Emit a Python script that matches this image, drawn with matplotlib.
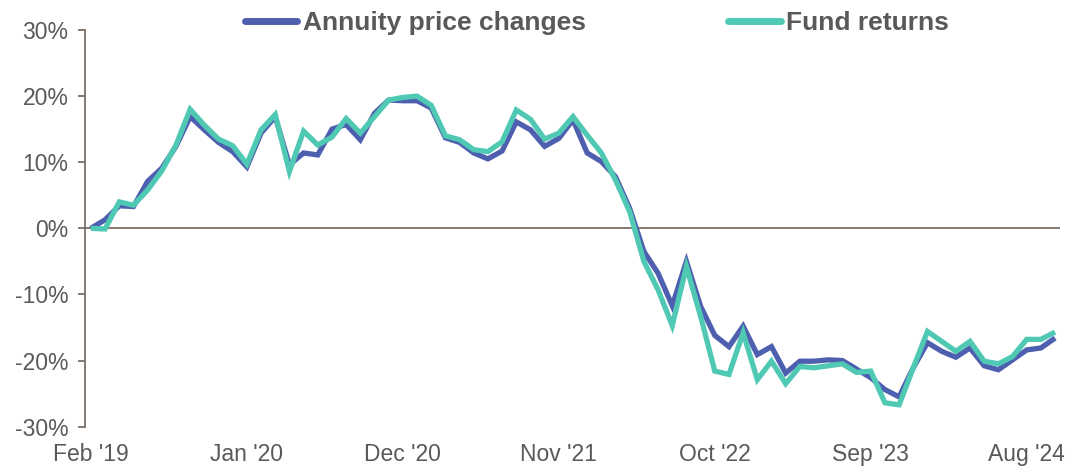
#!/usr/bin/env python3

import numpy as np
import pandas as pd
import matplotlib
matplotlib.use("Agg")
import matplotlib.pyplot as plt

plt.rcParams['font.family'] = ['Liberation Sans', 'DejaVu Sans']

# --- data (% cumulative change since Feb 2019, monthly) ---
months = pd.date_range("2019-02-01", periods=69, freq="MS")
month_labels = [d.strftime("%b '%y") for d in months]

annuity = [0, 1.3, 3.4, 3.3, 7.1, 9.1, 12.4, 16.9, 14.9, 13.0,
           11.6, 9.3, 14.4, 16.9, 9.6, 11.4, 11.1, 15.0, 15.7, 13.4,
           17.4, 19.4, 19.3, 19.3, 18.2, 13.7, 13.0, 11.4, 10.5, 11.7,
           16.1, 14.9, 12.4, 13.6, 16.4, 11.4, 10.1, 7.8, 3.0, -3.5,
           -6.8, -11.7, -5.0, -11.8, -16.2, -17.9, -14.8, -19.1, -17.9, -21.9,
           -20.1, -20.1, -19.9, -20.0, -21.3, -22.6, -24.4, -25.5, -21.1, -17.3,
           -18.6, -19.5, -18.1, -20.8, -21.4, -19.9, -18.4, -18.1, -16.6]

fund = [0, -0.1, 4.0, 3.5, 5.8, 8.7, 12.6, 18.0, 15.6, 13.5,
        12.5, 9.7, 14.9, 17.2, 8.6, 14.7, 12.6, 13.8, 16.6, 14.4,
        16.9, 19.4, 19.8, 20.0, 18.6, 14.0, 13.4, 11.9, 11.6, 13.1,
        17.9, 16.5, 13.5, 14.4, 16.9, 14.1, 11.4, 7.3, 2.5, -5.0,
        -9.3, -14.7, -5.8, -13.3, -21.6, -22.1, -15.8, -22.9, -20.1, -23.5,
        -20.9, -21.1, -20.8, -20.5, -21.8, -21.6, -26.4, -26.7, -21.1, -15.6,
        -17.1, -18.6, -17.1, -20.1, -20.5, -19.4, -16.8, -16.8, -15.7]

y_ticks = [-30, -20, -10, 0, 10, 20, 30]

# --- style ---
c_annuity = "#4E5FAF"
c_fund = "#4FC9B3"
c_axis = "#786F68"
c_text = "#595959"

fig = plt.figure(figsize=(10.66, 4.66), dpi=100)
ax = fig.add_axes([0.0797, 0.0845, 0.9147, 0.8511])

x = np.arange(len(months))
ax.plot(x, annuity, color=c_annuity, lw=3.8, solid_joinstyle="miter",
        solid_capstyle="butt", label="Annuity price changes", zorder=3)
ax.plot(x, fund, color=c_fund, lw=3.8, solid_joinstyle="miter",
        solid_capstyle="butt", label="Fund returns", zorder=4)

ax.axhline(0, color=c_axis, lw=1.3, zorder=2)

ax.set_ylim(-30, 30)
ax.set_xlim(-0.42, len(months) - 1 + 0.35)
ax.set_yticks(y_ticks)
ax.set_yticklabels([f"{v}%" for v in y_ticks])

tick_idx = x[::11]
ax.set_xticks(tick_idx)
ax.set_xticklabels([month_labels[i] for i in tick_idx])

for s in ["top", "right", "bottom"]:
    ax.spines[s].set_visible(False)
ax.spines["left"].set_color(c_axis)
ax.spines["left"].set_linewidth(1.3)

ax.tick_params(axis="y", direction="out", length=5, width=1.3, color=c_axis,
               labelcolor=c_text, labelsize=16.5, pad=7)
ax.tick_params(axis="x", length=0, labelcolor=c_text, labelsize=16.5, pad=12)

leg = fig.legend(loc="center", bbox_to_anchor=(0.56, 0.95), ncol=2,
                 frameon=False, handlelength=2.0, handletextpad=0.2,
                 columnspacing=5.4, prop={"weight": "bold", "size": 19})
for t in leg.get_texts():
    t.set_color(c_text)
for h in leg.get_lines():
    h.set_linewidth(5)
    h.set_solid_capstyle("round")

fig.savefig("out.png", dpi=100)
